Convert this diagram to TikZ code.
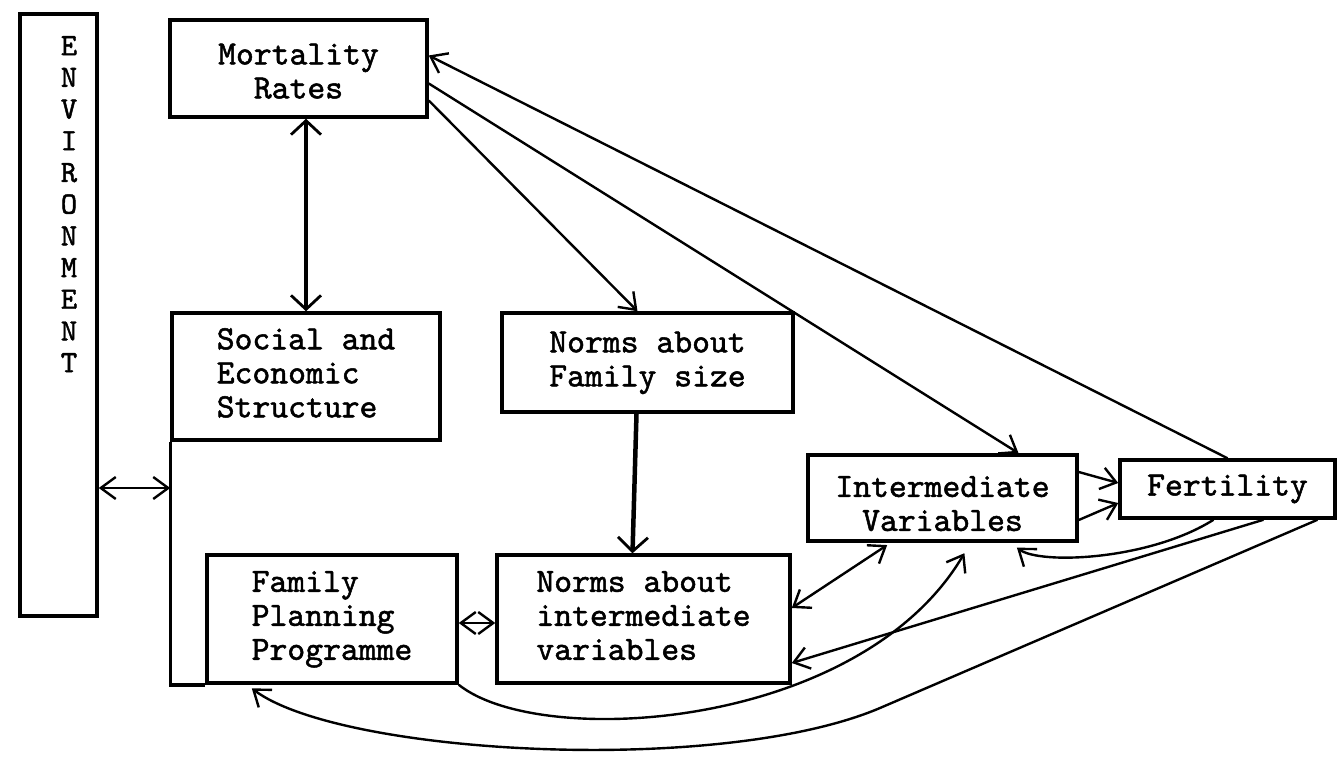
\documentclass[tikz,border=0pt]{standalone}
\usepackage{fontspec}
\usetikzlibrary{arrows.meta}
\newfontfamily\dgtt{lmmono10-regular}[Extension=.otf, FakeBold=1.5]
\newcommand{\dgfont}{\fontsize{34}{34}\selectfont\dgtt}
\newcommand{\envfont}{\fontsize{31}{31.7}\selectfont\dgtt}
\begin{document}
\begin{tikzpicture}[x=1pt,y=-1pt,
  box/.style={draw, line width=3.5pt, inner sep=0pt, align=center, font=\dgfont},
  arr/.style={line width=2.4pt, -{Straight Barb[length=15pt,width=22pt]}},
  dbl/.style={line width=2.4pt, {Straight Barb[length=15pt,width=22pt]}-{Straight Barb[length=15pt,width=22pt]}},
  heavydbl/.style={line width=4.5pt, {Straight Barb[length=14pt,width=30pt,line width=2.8pt]}-{Straight Barb[length=14pt,width=30pt,line width=2.8pt]}},
  heavyarr/.style={line width=4.5pt, -{Straight Barb[length=14pt,width=30pt,line width=2.8pt]}},
  frame/.style={line width=3.5pt}
]
\useasboundingbox (0,0) rectangle (1343,759);
\fill[white] (0,0) rectangle (1343,759);

% boxes
\node[box, minimum width=77pt, minimum height=602pt] (env) at (58.5,315) {};
\node[inner sep=0pt, align=center, font=\envfont, anchor=north] (envtext) at (69,36)
  {E\\N\\V\\I\\R\\O\\N\\M\\E\\N\\T};
\node[box, minimum width=257pt, minimum height=97pt] (mort) at (298.5,68.5)
  {\begin{tabular}{@{}c@{}}\rule{0pt}{36pt}Mortality\\Rates\end{tabular}};
\node[box, minimum width=268pt, minimum height=127pt] (soc) at (306,376.5)
  {\begin{tabular}{@{}l@{}}Social and\\Economic\\Structure\end{tabular}};
\node[box, minimum width=291pt, minimum height=99pt] (nfs) at (647.5,362.5)
  {\begin{tabular}{@{}c@{}}Norms about\\Family size\end{tabular}};
\node[box, minimum width=250pt, minimum height=128pt] (fp) at (332,619)
  {\begin{tabular}{@{}l@{}}Family\\Planning\\Programme\end{tabular}};
\node[box, minimum width=293pt, minimum height=128pt] (niv) at (643.5,619)
  {\begin{tabular}{@{}l@{}}Norms about\\intermediate\\variables\end{tabular}};
\node[box, minimum width=269pt, minimum height=80pt] (iv) at (942.5,498)
  {\begin{tabular}{@{}c@{}}\rule{0pt}{42pt}Intermediate\\Variables\end{tabular}};
\node[box, minimum width=215pt, minimum height=58pt] (fert) at (1227.5,489) {Fertility};

% extension of the social structure frame down to the planning programme
\draw[frame] (soc.south west) -- (soc.south west |- fp.south) -- (fp.south west);

% connectors
\coordinate (envy) at (0,488);
\draw[dbl] (env.east |- envy) -- (soc.west |- envy);
\draw[heavydbl] (soc.north |- mort.south) -- (soc.north);
\draw[arr] (fert.north) -- ([yshift=13pt]mort.east);
\draw[arr] ([yshift=-15pt]mort.east) -- ([xshift=76pt]iv.north);
\draw[arr] ([yshift=-32pt]mort.east) -- ([xshift=-10pt]nfs.north);
\draw[heavyarr] ([xshift=-11pt]nfs.south) -- ([xshift=-11pt]niv.north);
\draw[dbl] ([yshift=-4pt]fp.east) -- ([yshift=-4pt]niv.west);
\draw[arr] ([yshift=26pt]iv.east) -- ([yshift=6pt]fert.west);
\draw[arr] ([yshift=-22pt]iv.east) -- ([yshift=-14pt]fert.west);
\draw[dbl, shorten >=4pt] ([yshift=11pt]niv.east) -- ([xshift=-52pt]iv.south);
\draw[arr, shorten >=8pt] ([xshift=-14pt]fert.south) .. controls (1150,560) and (1040,565) .. ([xshift=68pt]iv.south);
\draw[arr] ([xshift=36pt]fert.south) -- ([yshift=-44pt]niv.east);
\draw[arr, shorten >=12pt] (fp.south east) .. controls (540,750) and (860,730) .. ([xshift=28pt]iv.south);
\coordinate (w1) at (880,708);
\draw[arr, shorten >=6pt] ([xshift=90pt]fert.south) -- (w1) .. controls (720,776) and (340,755) .. ([xshift=-85pt]fp.south);
\end{tikzpicture}
\end{document}
